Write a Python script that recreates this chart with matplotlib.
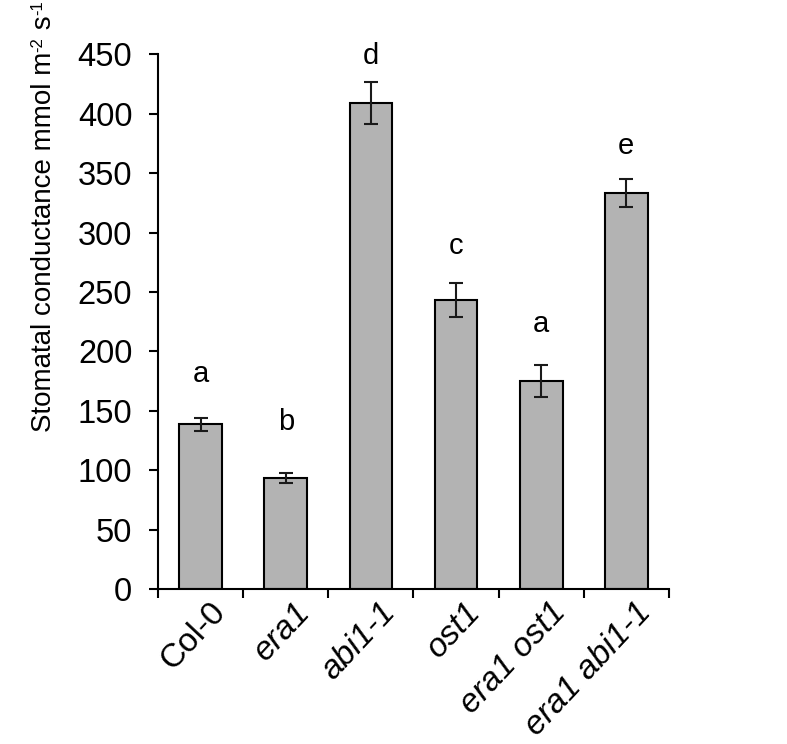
import matplotlib
matplotlib.use("Agg")
import matplotlib.pyplot as plt
import numpy as np

plt.rcParams['font.family'] = ['Liberation Sans', 'DejaVu Sans']

genotypes = ["Col-0", "era1", "abi1-1", "ost1", "era1 ost1", "era1 abi1-1"]
conductance = [138.8, 93.7, 408.6, 243.5, 175.0, 333.0]
errors = [5.2, 4.2, 17.5, 14.4, 13.4, 11.8]
sig_letters = ["a", "b", "d", "c", "a", "e"]
letter_y = [174, 134, 442, 282, 216, 366]
yticks = [0, 50, 100, 150, 200, 250, 300, 350, 400, 450]
ylabel_parts = [("Stomatal conductance mmol m", False), ("-2", True), (" s", False), ("-1", True)]

W, H = 787, 744
fig = plt.figure(figsize=(W / 100, H / 100), dpi=100)
ax = fig.add_axes([0.2008, 0.2077, 0.6492, 0.7197])

x = np.arange(len(genotypes))
ax.bar(x, conductance, width=0.5, color="#b3b3b3", edgecolor="black", linewidth=1.5, zorder=2)
ax.errorbar(x, conductance, yerr=errors, fmt="none", ecolor="#1a1a1a", elinewidth=1.5,
            capsize=5, capthick=1.5, zorder=3)

for xi, lab, ly in zip(x, sig_letters, letter_y):
    ax.text(xi, ly, lab, ha="center", va="baseline", fontsize=21)

ax.set_xlim(-0.5, len(genotypes) - 0.5)
ax.set_ylim(0, 450)
ax.set_yticks(yticks)
ax.tick_params(axis="y", labelsize=23.5, width=1.5, length=6.5, direction="out", pad=12)

ax.set_xticks(x)
ax.set_xticklabels([])
ax.tick_params(axis="x", which="major", length=0)
ax.set_xticks(np.arange(-0.5, len(genotypes)), minor=True)
ax.tick_params(axis="x", which="minor", length=6.5, width=1.5, direction="out")

for xi, lab in zip(x, genotypes):
    ax.text(xi + 0.1, -6, lab, rotation=47, rotation_mode="anchor", ha="right", va="top",
            fontsize=24, style="normal" if lab == "Col-0" else "italic")

for s in ["top", "right"]:
    ax.spines[s].set_visible(False)
for s in ["left", "bottom"]:
    ax.spines[s].set_linewidth(1.5)

# y-axis title composed of pieces (hyphenated superscripts like the original)
fig.canvas.draw()
renderer = fig.canvas.get_renderer()
base_x = 51.0          # pixel x of the baseline
cur_y = 432.0          # pixel y (from top) where the text starts
main_size, sup_size, sup_raise = 20, 12, 8.5
for txt, sup in ylabel_parts:
    xpix = base_x - (sup_raise if sup else 0)
    t = fig.text(xpix / W, 1 - cur_y / H, txt, rotation=90, rotation_mode="anchor",
                 ha="left", va="baseline", fontsize=sup_size if sup else main_size)
    bb = t.get_window_extent(renderer)
    cur_y -= bb.height

fig.savefig("out.png", dpi=100)
